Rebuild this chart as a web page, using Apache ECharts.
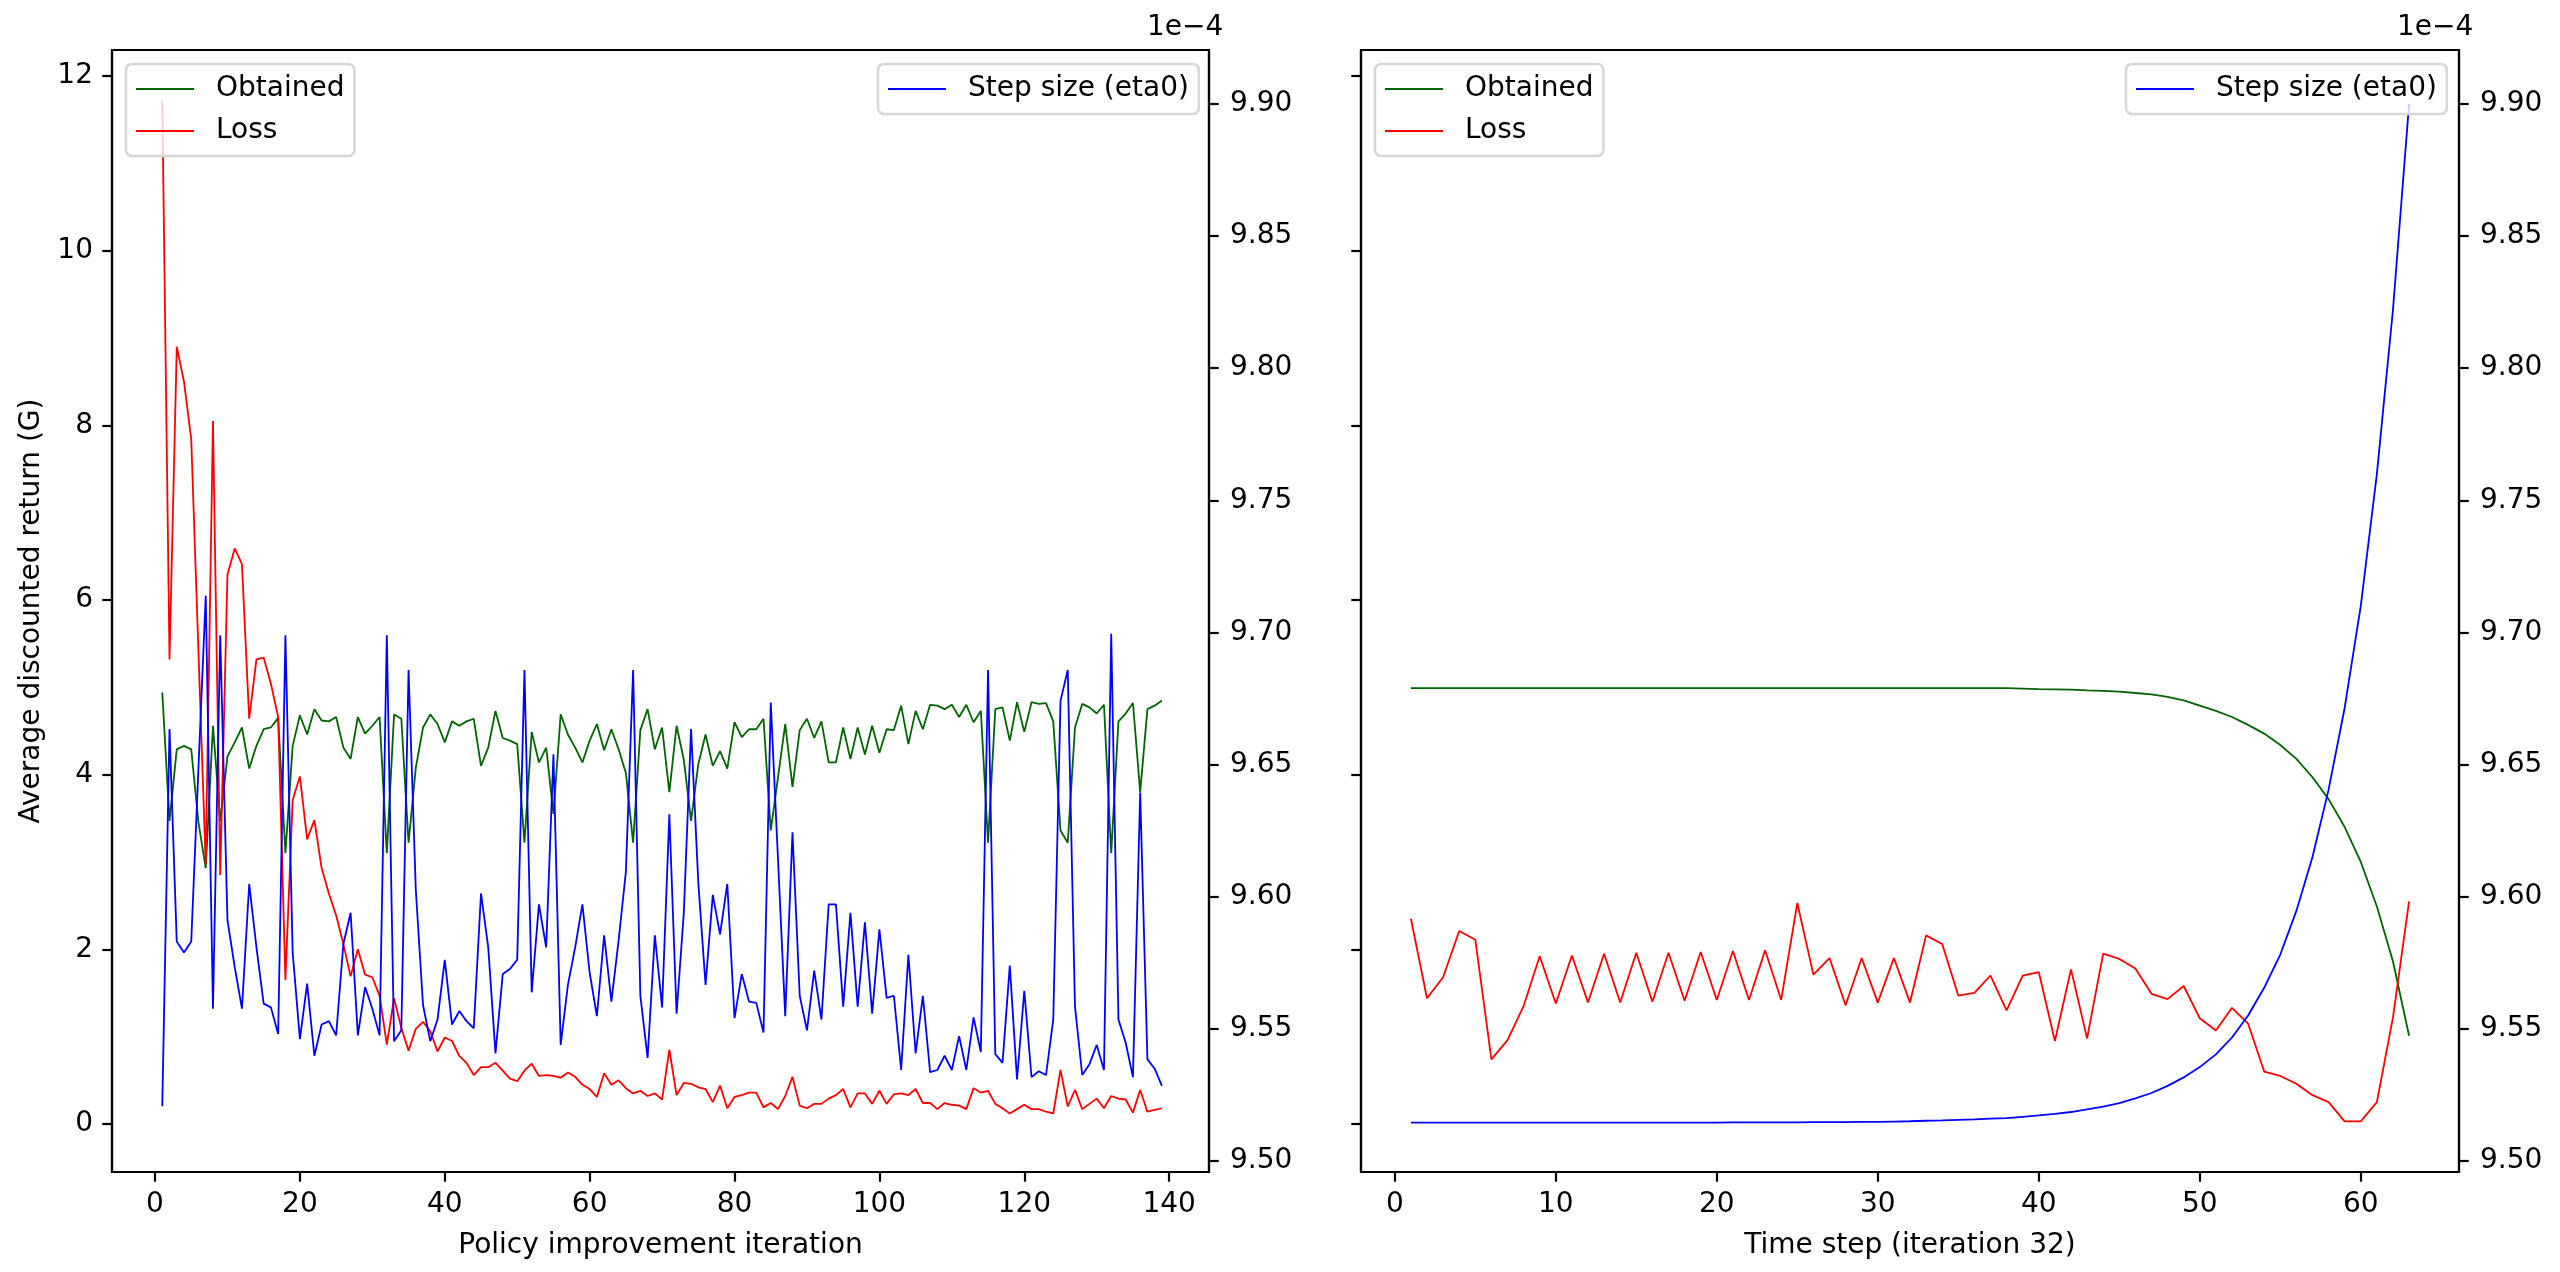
<!DOCTYPE html>
<html>
<head>
<meta charset="utf-8">
<script src="https://cdn.jsdelivr.net/npm/echarts@6/dist/echarts.min.js"></script>
<style>
  html, body { margin: 0; padding: 0; background: #fff; }
  #main { width: 2560px; height: 1272px; }
</style>
</head>
<body>
<div id="main"></div>
<script>
// ---------- Left panel: policy improvement iterations 1..139 ----------
const leftObtained = [
  4.94, 3.47, 4.29, 4.33, 4.29, 3.45, 2.93, 4.56, 3.47, 4.21,
  4.37, 4.54, 4.07, 4.33, 4.52, 4.54, 4.65, 3.10, 4.33, 4.68,
  4.46, 4.75, 4.62, 4.61, 4.66, 4.31, 4.18, 4.66, 4.47, 4.56,
  4.66, 3.10, 4.69, 4.64, 3.22, 4.08, 4.54, 4.69, 4.58, 4.37,
  4.61, 4.56, 4.61, 4.64, 4.10, 4.31, 4.73, 4.42, 4.39, 4.35,
  3.22, 4.49, 4.14, 4.31, 3.55, 4.69, 4.46, 4.31, 4.14, 4.39,
  4.58, 4.28, 4.52, 4.29, 4.02, 3.22, 4.51, 4.75, 4.29, 4.54,
  3.80, 4.56, 4.17, 3.47, 4.12, 4.46, 4.10, 4.27, 4.07, 4.60,
  4.43, 4.52, 4.52, 4.64, 3.36, 3.97, 4.58, 3.86, 4.51, 4.64,
  4.42, 4.61, 4.14, 4.14, 4.54, 4.18, 4.54, 4.23, 4.56, 4.25,
  4.52, 4.51, 4.79, 4.35, 4.73, 4.52, 4.80, 4.79, 4.75, 4.80,
  4.66, 4.80, 4.60, 4.73, 3.22, 4.75, 4.77, 4.39, 4.83, 4.49,
  4.83, 4.81, 4.82, 4.61, 3.36, 3.22, 4.54, 4.81, 4.77, 4.70,
  4.80, 3.10, 4.61, 4.70, 4.82, 3.80, 4.75, 4.79, 4.85
];
const leftLoss = [
  11.72, 5.32, 8.90, 8.50, 7.84, 5.40, 2.97, 8.05, 2.85, 6.29,
  6.59, 6.41, 4.64, 5.32, 5.34, 5.04, 4.66, 1.65, 3.71, 3.98,
  3.26, 3.48, 2.93, 2.64, 2.39, 2.06, 1.69, 2.00, 1.71, 1.68,
  1.47, 0.91, 1.44, 1.10, 0.84, 1.09, 1.17, 1.06, 0.83, 0.99,
  0.95, 0.78, 0.70, 0.56, 0.65, 0.65, 0.70, 0.61, 0.52, 0.49,
  0.61, 0.69, 0.55, 0.56, 0.55, 0.53, 0.59, 0.54, 0.45, 0.40,
  0.31, 0.58, 0.45, 0.50, 0.41, 0.35, 0.38, 0.32, 0.35, 0.28,
  0.85, 0.33, 0.47, 0.46, 0.42, 0.40, 0.25, 0.44, 0.18, 0.31,
  0.33, 0.36, 0.36, 0.19, 0.24, 0.17, 0.32, 0.54, 0.21, 0.18,
  0.23, 0.23, 0.29, 0.33, 0.40, 0.19, 0.35, 0.35, 0.23, 0.38,
  0.23, 0.34, 0.35, 0.33, 0.40, 0.24, 0.24, 0.17, 0.24, 0.22,
  0.21, 0.17, 0.41, 0.36, 0.38, 0.23, 0.18, 0.12, 0.17, 0.22,
  0.17, 0.17, 0.14, 0.12, 0.62, 0.20, 0.39, 0.17, 0.23, 0.29,
  0.18, 0.32, 0.29, 0.28, 0.13, 0.39, 0.14, 0.16, 0.18
];
// step size eta0, in units of 1e-4
const leftStepSizeE4 = [
  9.5207, 9.6634, 9.5830, 9.5789, 9.5830, 9.6490, 9.7139, 9.5576, 9.6989, 9.5911,
  9.5734, 9.5576, 9.6048, 9.5808, 9.5595, 9.5581, 9.5480, 9.6989, 9.5789, 9.5461,
  9.5671, 9.5398, 9.5516, 9.5529, 9.5475, 9.5821, 9.5939, 9.5475, 9.5658, 9.5576,
  9.5475, 9.6989, 9.5453, 9.5494, 9.6858, 9.6026, 9.5589, 9.5453, 9.5535, 9.5761,
  9.5516, 9.5567, 9.5529, 9.5502, 9.6012, 9.5808, 9.5407, 9.5707, 9.5726, 9.5761,
  9.6858, 9.5638, 9.5971, 9.5808, 9.6539, 9.5439, 9.5666, 9.5808, 9.5971, 9.5712,
  9.5548, 9.5854, 9.5603, 9.5835, 9.6094, 9.6858, 9.5625, 9.5390, 9.5854, 9.5581,
  9.6312, 9.5557, 9.5939, 9.6634, 9.6053, 9.5666, 9.6007, 9.5857, 9.6048, 9.5540,
  9.5707, 9.5603, 9.5598, 9.5486, 9.6735, 9.6143, 9.5548, 9.6244, 9.5625, 9.5494,
  9.5720, 9.5535, 9.5971, 9.5971, 9.5584, 9.5939, 9.5584, 9.5903, 9.5557, 9.5876,
  9.5617, 9.5625, 9.5344, 9.5780, 9.5407, 9.5625, 9.5336, 9.5344, 9.5398, 9.5344,
  9.5472, 9.5344, 9.5543, 9.5412, 9.6858, 9.5404, 9.5371, 9.5739, 9.5308, 9.5644,
  9.5317, 9.5339, 9.5325, 9.5535, 9.6741, 9.6858, 9.5584, 9.5325, 9.5366, 9.5439,
  9.5344, 9.6995, 9.5535, 9.5447, 9.5317, 9.6394, 9.5385, 9.5349, 9.5284
];

// ---------- Right panel: time steps 1..63 of iteration 32 ----------
const rightObtained = [
  4.99, 4.99, 4.99, 4.99, 4.99, 4.99, 4.99, 4.99, 4.99, 4.99,
  4.99, 4.99, 4.99, 4.99, 4.99, 4.99, 4.99, 4.99, 4.99, 4.99,
  4.99, 4.99, 4.99, 4.99, 4.99, 4.99, 4.99, 4.99, 4.99, 4.99,
  4.99, 4.99, 4.99, 4.99, 4.99, 4.99, 4.99, 4.99, 4.985, 4.98,
  4.977, 4.973, 4.965, 4.96, 4.95, 4.935, 4.92, 4.89, 4.85, 4.79,
  4.73, 4.66, 4.57, 4.47, 4.34, 4.18, 3.97, 3.72, 3.40, 3.00,
  2.49, 1.86, 1.01
];
const rightLoss = [
  2.35, 1.44, 1.68, 2.21, 2.11, 0.74, 0.96, 1.35, 1.92, 1.38,
  1.93, 1.39, 1.95, 1.39, 1.96, 1.40, 1.96, 1.41, 1.97, 1.42,
  1.98, 1.42, 1.99, 1.42, 2.53, 1.71, 1.90, 1.36, 1.90, 1.39,
  1.90, 1.39, 2.16, 2.06, 1.47, 1.50, 1.70, 1.30, 1.70, 1.74,
  0.95, 1.77, 0.98, 1.95, 1.89, 1.78, 1.49, 1.43, 1.58, 1.21,
  1.07, 1.33, 1.15, 0.60, 0.55, 0.46, 0.33, 0.25, 0.03, 0.03,
  0.25, 1.22, 2.55
];
const rightStepSizeE4 = [
  9.5145, 9.5145, 9.5145, 9.5145, 9.5145, 9.5145, 9.5145, 9.5145, 9.5145, 9.5145,
  9.5145, 9.5145, 9.5145, 9.5145, 9.5145, 9.5145, 9.5145, 9.5145, 9.5145, 9.5145,
  9.5146, 9.5146, 9.5146, 9.5146, 9.5146, 9.5147, 9.5147, 9.5147, 9.5148, 9.5148,
  9.5149, 9.5150, 9.5152, 9.5153, 9.5155, 9.5157, 9.5160, 9.5162, 9.5167, 9.5172,
  9.5178, 9.5185, 9.5195, 9.5205, 9.5219, 9.5237, 9.5257, 9.5284, 9.5316, 9.5355,
  9.5403, 9.5467, 9.5550, 9.5655, 9.5781, 9.5946, 9.6150, 9.6405, 9.6715, 9.7100,
  9.7600, 9.8222, 9.9000
];

// ---------- Tick labels ----------
const leftXTicks = [0, 20, 40, 60, 80, 100, 120, 140];
const rightXTicks = [0, 10, 20, 30, 40, 50, 60];
const returnTicks = [0, 2, 4, 6, 8, 10, 12];
const stepTicksE4 = [9.50, 9.55, 9.60, 9.65, 9.70, 9.75, 9.80, 9.85, 9.90];

const leftIterations = leftObtained.map((_, i) => i + 1);
const rightTimeSteps = rightObtained.map((_, i) => i + 1);

const FONT = 'DejaVu Sans';
const FS = 28;
const AX_W = 2.2;

function pairs(xs, ys) { return xs.map((x, i) => [x, ys[i]]); }

function xAxisCfg(grid, min, max, ticks, name) {
  return {
    gridIndex: grid, type: 'value', min: min, max: max,
    axisLine: { show: true, onZero: false, lineStyle: { color: '#000', width: AX_W } },
    axisTick: { show: true, length: 9.7, lineStyle: { color: '#000', width: AX_W }, customValues: ticks },
    axisLabel: { show: true, customValues: ticks, fontSize: FS, fontFamily: FONT, color: '#000', margin: 19 },
    splitLine: { show: false },
    name: name, nameLocation: 'middle', nameGap: 60,
    nameTextStyle: { fontSize: FS, fontFamily: FONT, color: '#000' }
  };
}
function yLeftCfg(grid, showLabels) {
  const c = {
    gridIndex: grid, type: 'value', position: 'left', min: -0.550, max: 12.298,
    axisLine: { show: true, onZero: false, lineStyle: { color: '#000', width: AX_W } },
    axisTick: { show: true, length: 9.7, lineStyle: { color: '#000', width: AX_W }, customValues: returnTicks },
    axisLabel: { show: showLabels, customValues: returnTicks, fontSize: FS, fontFamily: FONT, color: '#000', margin: 19 },
    splitLine: { show: false }
  };
  if (showLabels) {
    c.name = 'Average discounted return (G)';
    c.nameLocation = 'middle';
    c.nameGap = 66;
    c.nameRotate = 90;
    c.nameTextStyle = { fontSize: FS, fontFamily: FONT, color: '#000' };
  }
  return c;
}
function yRightCfg(grid) {
  return {
    gridIndex: grid, type: 'value', position: 'right', min: 9.4958, max: 9.9204,
    axisLine: { show: true, onZero: false, lineStyle: { color: '#000', width: AX_W } },
    axisTick: { show: true, length: 9.7, lineStyle: { color: '#000', width: AX_W }, customValues: stepTicksE4 },
    axisLabel: { show: true, customValues: stepTicksE4, fontSize: FS, fontFamily: FONT, color: '#000', margin: 21,
      formatter: v => Number(v).toFixed(2) },
    splitLine: { show: false }
  };
}
function lineSeries(name, color, xi, yi, data) {
  return {
    name: name, type: 'line', xAxisIndex: xi, yAxisIndex: yi, data: data,
    showSymbol: false, symbol: 'none', smooth: false,
    lineStyle: { color: color, width: 1.8 }, itemStyle: { color: color },
    emphasis: { disabled: true }, animation: false
  };
}
function legendCfg(names, left, top) {
  return {
    data: names, left: left, top: top, orient: 'vertical',
    padding: [11, 10, 11, 10], itemGap: 14,
    icon: 'rect', itemWidth: 58, itemHeight: 2,
    backgroundColor: 'rgba(255,255,255,0.8)',
    borderColor: '#d6d6d6', borderWidth: 2.5, borderRadius: 6,
    textStyle: { fontSize: FS, fontFamily: FONT, color: '#000', lineHeight: 28, padding: [0, 0, 0, 17] },
    selectedMode: false
  };
}

const GREEN = '#006400', RED = '#ff0000', BLUE = '#0000ff';

const option = {
  backgroundColor: '#fff',
  animation: false,
  grid: [
    { left: 112, top: 50, width: 1097, height: 1122, show: true, borderColor: '#000', borderWidth: AX_W, backgroundColor: 'transparent' },
    { left: 1361, top: 50, width: 1098, height: 1122, show: true, borderColor: '#000', borderWidth: AX_W, backgroundColor: 'transparent' }
  ],
  xAxis: [
    xAxisCfg(0, -5.94, 145.5, leftXTicks, 'Policy improvement iteration'),
    xAxisCfg(1, -2.1, 66.1, rightXTicks, 'Time step (iteration 32)')
  ],
  yAxis: [yLeftCfg(0, true), yRightCfg(0), yLeftCfg(1, false), yRightCfg(1)],
  legend: [
    legendCfg(['Obtained', 'Loss'], 126, 64),
    legendCfg(['Step size (eta0)'], 878, 64),
    legendCfg(['Obtained', 'Loss'], 1375, 64),
    legendCfg(['Step size (eta0)'], 2126, 64)
  ],
  graphic: [
    { type: 'text', left: 1209 - 62, top: 14, style: { text: '1e\u22124', fontSize: FS, fontFamily: FONT, fill: '#000' } },
    { type: 'text', left: 2459 - 62, top: 14, style: { text: '1e\u22124', fontSize: FS, fontFamily: FONT, fill: '#000' } }
  ],
  series: [
    lineSeries('Obtained', GREEN, 0, 0, pairs(leftIterations, leftObtained)),
    lineSeries('Loss', RED, 0, 0, pairs(leftIterations, leftLoss)),
    lineSeries('Step size (eta0)', BLUE, 0, 1, pairs(leftIterations, leftStepSizeE4)),
    lineSeries('Obtained', GREEN, 1, 2, pairs(rightTimeSteps, rightObtained)),
    lineSeries('Loss', RED, 1, 2, pairs(rightTimeSteps, rightLoss)),
    lineSeries('Step size (eta0)', BLUE, 1, 3, pairs(rightTimeSteps, rightStepSizeE4))
  ]
};

const chart = echarts.init(document.getElementById('main'), null, { renderer: 'canvas', width: 2560, height: 1272 });
chart.setOption(option);
</script>
</body>
</html>
